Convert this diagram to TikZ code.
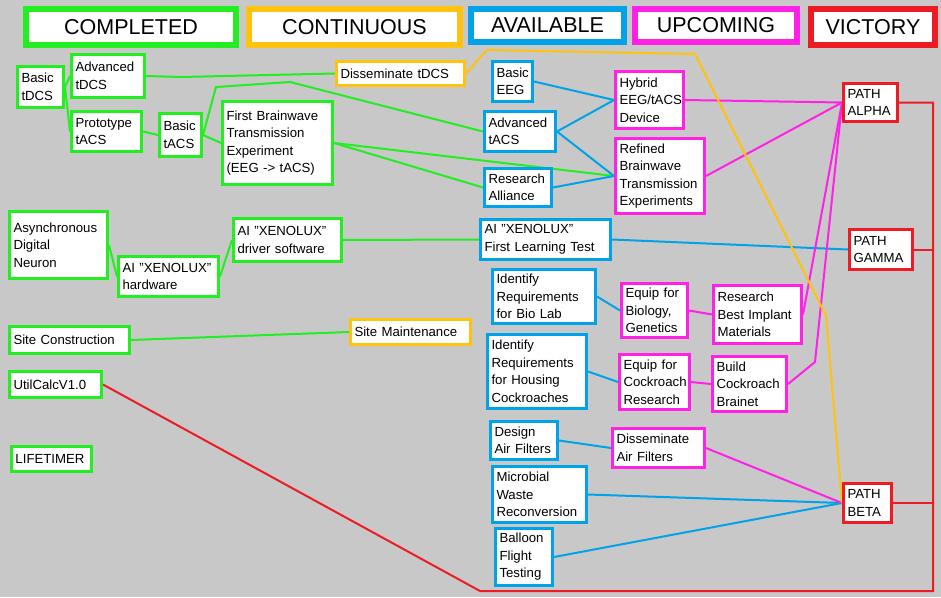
\documentclass[tikz,border=0pt]{standalone}
\usepackage{fontspec}
\setmainfont{Liberation Sans}
\usetikzlibrary{positioning}
\usetikzlibrary{backgrounds}
\definecolor{cgreen}{HTML}{22EE22}
\definecolor{corange}{HTML}{FFC20E}
\definecolor{cblue}{HTML}{00A2E8}
\definecolor{cmag}{HTML}{FF22E6}
\definecolor{cred}{HTML}{ED1C24}
\definecolor{cbg}{HTML}{C8C8C8}
\begin{document}
\begin{tikzpicture}[x=1pt,y=-1pt,
            box/.style = {draw=#1,line width=3pt,fill=white,anchor=north west,
                align=left,inner xsep=4pt,inner ysep=1pt,
                font=\fontsize{13.2}{17.5}\selectfont},
            head/.style = {draw=#1,line width=6pt,fill=white,anchor=north west,
                inner sep=0pt,font=\fontsize{21.5}{22}\selectfont},
            link/.style = {draw=#1,line width=2pt}]
    \useasboundingbox (0,0) rectangle (941,597);
    % headers
    \node[head=cgreen,minimum width=210,minimum height=36] (hcomp) at (23,6) {COMPLETED};
    \node[head=corange,minimum width=211,minimum height=36] (hcont) at (246,6) {CONTINUOUS};
    \node[head=cblue,minimum width=153,minimum height=33] (havail) at (468,6) {AVAILABLE};
    \node[head=cmag,minimum width=162,minimum height=33] (hup) at (632,6) {UPCOMING};
    \node[head=cred,minimum width=124,minimum height=36] (hvic) at (808,6) {VICTORY};
    % tDCS / tACS branch
    \node[box=cgreen,text width=38,minimum height=41] (btdcs) at (16,65) {Basic\\tDCS};
    \node[box=cgreen,text width=65,minimum height=43] (atdcs) at (70,53) {Advanced\\tDCS};
    \node[box=cgreen,text width=62,minimum height=40] (ptacs) at (70,110) {Prototype\\tACS};
    \node[box=cgreen,text width=34,minimum height=43] (btacs) at (158,112) {Basic\\tACS};
    \node[box=cgreen,text width=102,minimum height=83] (fbte) at (221,100)
        {First Brainwave\\Transmission\\Experiment\\(EEG -> tACS)};
    \node[box=corange,text width=120,minimum height=24] (dtdcs) at (335,60) {Disseminate tDCS};
    \node[box=cblue,text width=32,minimum height=40] (beeg) at (491,60) {Basic\\EEG};
    \node[box=cblue,text width=63,minimum height=40] (atacs) at (483,110) {Advanced\\tACS};
    \node[box=cblue,text width=59,minimum height=38] (ralli) at (483,167) {Research\\Alliance};
    \node[box=cmag,text width=60,minimum height=57] (hybrid) at (614,70) {Hybrid\\EEG/tACS\\Device};
    \node[box=cmag,text width=81,minimum height=75] (refined) at (614,137)
        {Refined\\Brainwave\\Transmission\\Experiments};
    \node[box=cred,text width=46,minimum height=38] (alpha) at (842,82) {PATH\\ALPHA};
    % XENOLUX branch
    \node[box=cgreen,text width=90,minimum height=67] (adn) at (8,210) {Asynchronous\\Digital\\Neuron};
    \node[box=cgreen,text width=92,minimum height=40] (hw) at (117,255) {AI "XENOLUX"\\hardware};
    \node[box=cgreen,text width=100,minimum height=43] (drv) at (232,217) {AI "XENOLUX"\\driver software};
    \node[box=cblue,text width=122,minimum height=40] (flt) at (479,218) {AI "XENOLUX"\\First Learning Test};
    \node[box=cred,text width=55,minimum height=40] (gamma) at (848,228) {PATH\\GAMMA};
    % labs
    \node[box=cblue,text width=95,minimum height=54] (irbio) at (491,268)
        {Identify\\Requirements\\for Bio Lab};
    \node[box=cmag,text width=58,minimum height=54] (eqbio) at (620,282) {Equip for\\Biology,\\Genetics};
    \node[box=cmag,text width=80,minimum height=58] (rbim) at (712,284)
        {Research\\Best Implant\\Materials};
    \node[box=cgreen,text width=112,minimum height=27] (sitec) at (8,325) {Site Construction};
    \node[box=corange,text width=112,minimum height=25] (sitem) at (349,318) {Site Maintenance};
    \node[box=cblue,text width=91,minimum height=74] (irhouse) at (486,333)
        {Identify\\Requirements\\for Housing\\Cockroaches};
    \node[box=cmag,text width=62,minimum height=55] (eqroach) at (618,353)
        {Equip for\\Cockroach\\Research};
    \node[box=cmag,text width=66,minimum height=55] (brainet) at (711,355)
        {Build\\Cockroach\\Brainet};
    \node[box=cgreen,text width=84,minimum height=26] (util) at (8,370) {UtilCalcV1.0};
    \node[box=cgreen,text width=72,minimum height=25] (life) at (10,445) {LIFETIMER};
    % air, waste, balloon
    \node[box=cblue,text width=59,minimum height=38] (daf) at (489,420) {Design\\Air Filters};
    \node[box=cmag,text width=84,minimum height=39] (dissaf) at (611,427) {Disseminate\\Air Filters};
    \node[box=cblue,text width=86,minimum height=56] (mwr) at (491,465)
        {Microbial\\Waste\\Reconversion};
    \node[box=cred,text width=40,minimum height=39] (beta) at (842,482) {PATH\\BETA};
    \node[box=cblue,text width=49,minimum height=57] (balloon) at (494,527)
        {Balloon\\Flight\\Testing};
    \coordinate (rr) at (933,591);
    % connectors
    \begin{scope}[on background layer]
    \fill[cbg] (0,0) rectangle (941,597);
    \path[link=cgreen]
        (btdcs.east) edge (atdcs.west)
        (btdcs.east) edge (ptacs.west)
        (ptacs.east) edge (btacs.west)
        (btacs.east) edge (fbte.west)
        (fbte.east) edge (refined.west)
        (fbte.east) edge (ralli.west)
        (adn.east) edge (hw.west)
        (hw.east) edge (drv.west)
        (drv.east) edge (flt.west)
        (sitec.east) edge (sitem.west);
    \draw[link=cgreen] (btacs.east) -- ++(13,-48) -- ++(74,-5) -- (atacs.west);
    \draw[link=cgreen] (atdcs.east) -- ++(35,1) -- (dtdcs.west);
    \path[link=cblue]
        (beeg.east) edge (hybrid.west)
        (atacs.east) edge (hybrid.west)
        (atacs.east) edge (refined.west)
        (ralli.east) edge (refined.west)
        (flt.east) edge (gamma.west)
        (irbio.east) edge (eqbio.west)
        (irhouse.east) edge (eqroach.west)
        (daf.east) edge (dissaf.west)
        (mwr.east) edge (beta.west)
        (balloon.east) edge (beta.west);
    \path[link=cmag]
        (hybrid.east) edge (alpha.west)
        (refined.east) edge (alpha.west)
        (eqbio.east) edge (rbim.west)
        (rbim.east) edge (alpha.west)
        (eqroach.east) edge (brainet.west)
        (dissaf.east) edge (beta.west);
    \draw[link=cmag] (brainet.east) -- (815,362) -- (alpha.west);
    \draw[link=corange] (dtdcs.east) -- (487,50) -- (695,54) -- (823,310) -- (826,315)
        -- (beta.west);
    \draw[link=cred] (alpha.east) -- (alpha.east -| rr) -- (rr) -- (480,591) -- (util.east);
    \draw[link=cred] (gamma.east) -- (gamma.east -| rr);
    \draw[link=cred] (beta.east) -- (beta.east -| rr);
    \end{scope}
\end{tikzpicture}
\end{document}
